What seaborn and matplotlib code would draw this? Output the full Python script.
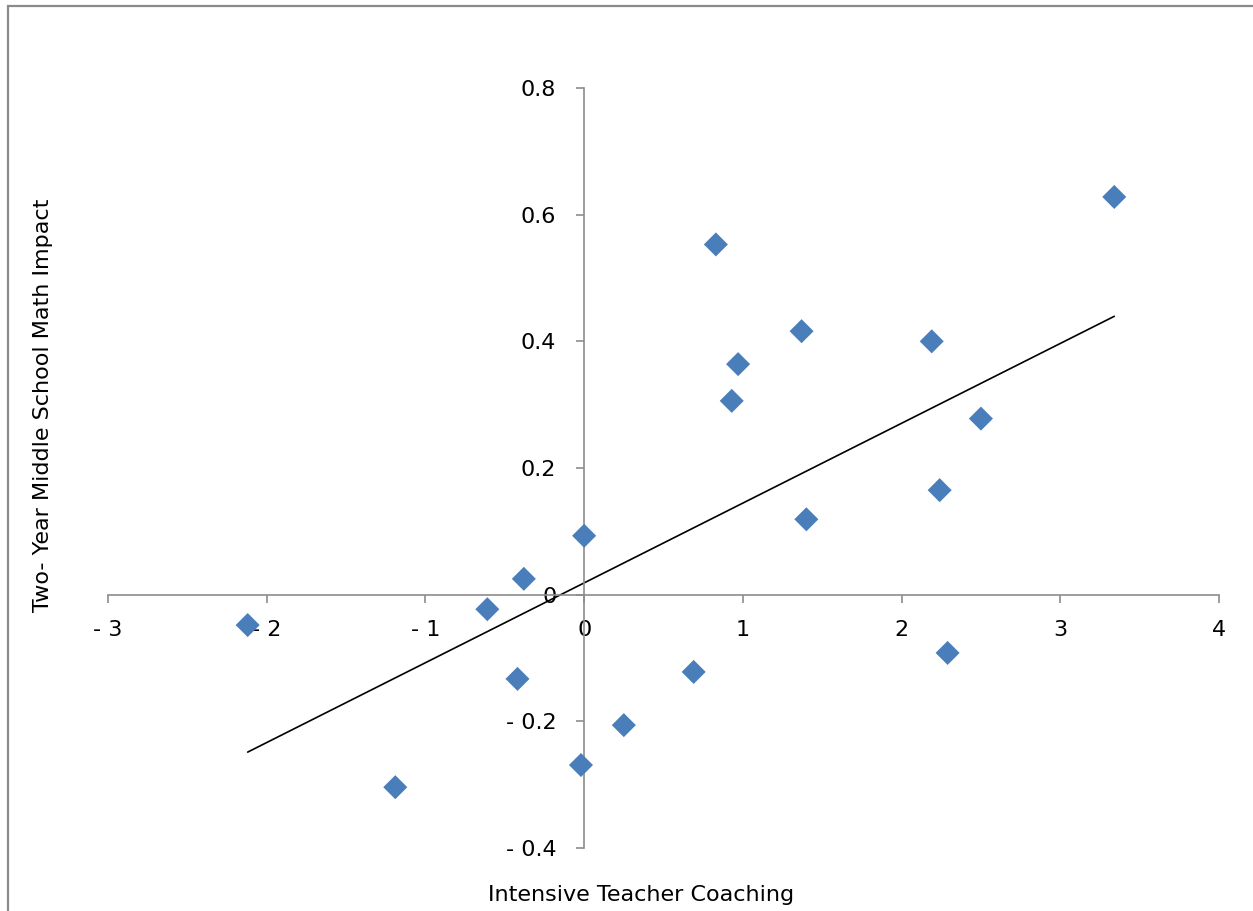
import numpy as np
import pandas as pd
import matplotlib
matplotlib.use("Agg")
import matplotlib.pyplot as plt
import seaborn as sns
from matplotlib.patches import Rectangle

# --- Data ---
coaching = [-2.12, -1.19, -0.61, -0.38, -0.42, 0.00, -0.02, 0.25, 0.69, 0.83,
            0.93, 0.97, 1.37, 1.40, 2.19, 2.24, 2.29, 2.50, 3.34]
math_impact = [-0.048, -0.304, -0.023, 0.025, -0.133, 0.093, -0.269, -0.206, -0.122, 0.553,
               0.306, 0.364, 0.416, 0.119, 0.400, 0.165, -0.092, 0.278, 0.628]

x_ticks = [-3, -2, -1, 0, 1, 2, 3, 4]
x_tick_labels = ["- 3", "- 2", "- 1", "0", "1", "2", "3", "4"]
y_ticks = [-0.4, -0.2, 0, 0.2, 0.4, 0.6, 0.8]
y_tick_labels = ["- 0.4", "- 0.2", "0", "0.2", "0.4", "0.6", "0.8"]

df = pd.DataFrame({"coaching": coaching, "impact": math_impact})

# --- Style ---
sns.set_theme(style="white")
plt.rcParams['font.family'] = ['DejaVu Sans']

fig = plt.figure(figsize=(12.53, 9.11), dpi=100)
ax = fig.add_axes([108 / 1253, 63 / 911, 1111 / 1253, 760 / 911])

sns.regplot(data=df, x="coaching", y="impact", ax=ax, ci=None, truncate=True,
            marker="D",
            scatter_kws=dict(s=150, color="#4A7EBB", edgecolor="none", alpha=1, zorder=3),
            line_kws=dict(color="black", lw=1.2, zorder=2))

ax.set_xlim(-3, 4)
ax.set_ylim(-0.4, 0.8)

# Excel-style crossing axes at zero
for side in ["top", "right"]:
    ax.spines[side].set_visible(False)
for side in ["left", "bottom"]:
    ax.spines[side].set_position("zero")
    ax.spines[side].set_color("#8c8c8c")
    ax.spines[side].set_linewidth(1.2)

ax.set_xticks(x_ticks)
ax.set_xticklabels(x_tick_labels)
ax.set_yticks(y_ticks)
ax.set_yticklabels(y_tick_labels)
ax.tick_params(axis="both", direction="out", length=6, width=1.2, color="#8c8c8c",
               labelsize=16, labelcolor="black", bottom=True, left=True)
ax.tick_params(axis="x", pad=12)
ax.tick_params(axis="y", pad=14)
ax.set_xlabel("")
ax.set_ylabel("")

fig.text(641 / 1253, 1 - 895 / 911, "Intensive Teacher Coaching", ha="center", va="center",
         fontsize=16, color="black")
fig.text(43 / 1253, 1 - 405 / 911, "Two- Year Middle School Math Impact", ha="center",
         va="center", rotation=90, fontsize=16, color="black")

# chart-area border
fig.patches.append(Rectangle((8 / 1253, -0.05), 1.2, 1.05 - 6 / 911, transform=fig.transFigure,
                             fill=False, edgecolor="#8a8a8a", lw=1.6, zorder=0))

fig.savefig("out.png", dpi=100)
